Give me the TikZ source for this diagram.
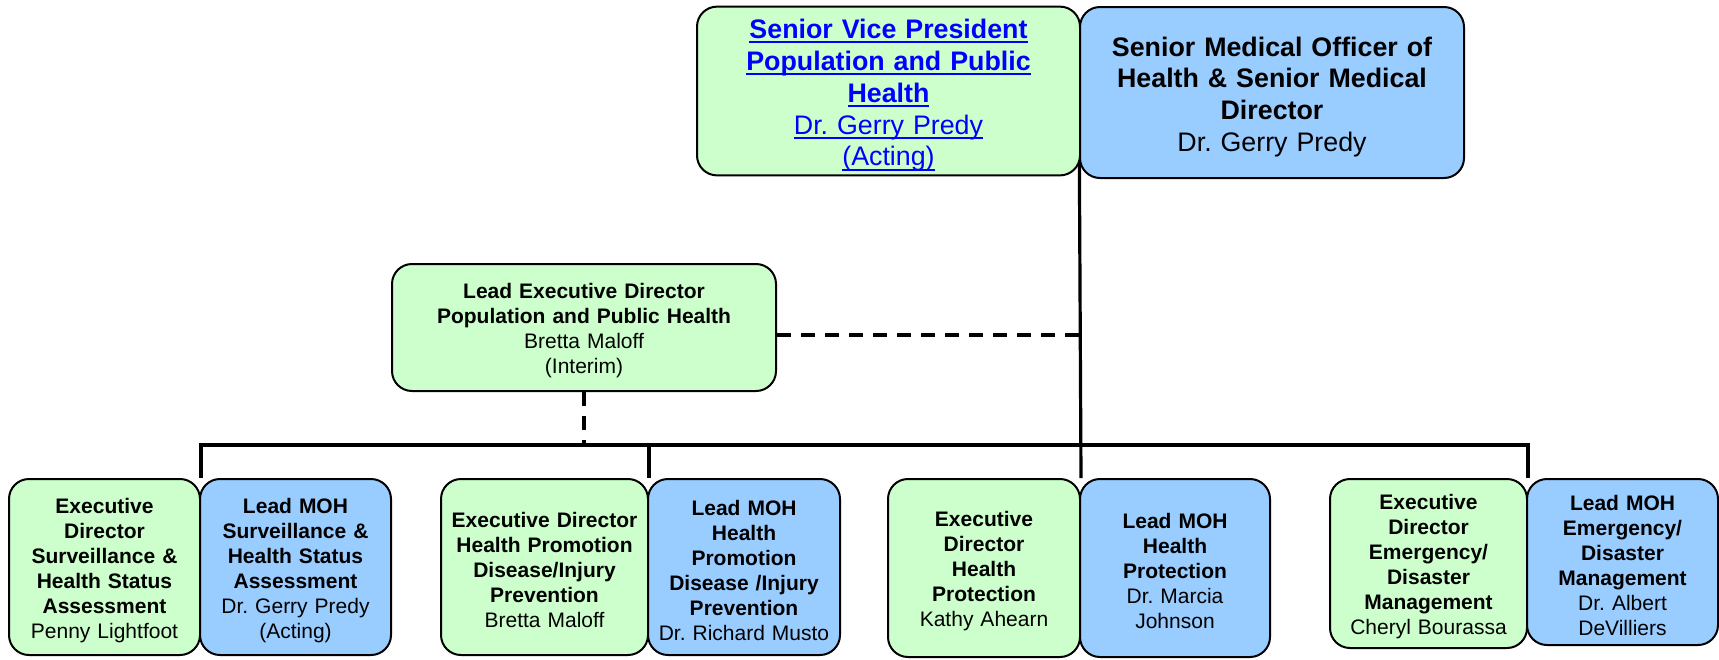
\documentclass[tikz,border=0pt]{standalone}
\usepackage{fontspec}
\setmainfont{Liberation Sans}
\usetikzlibrary{backgrounds}
\frenchspacing

\definecolor{boxgreen}{HTML}{CCFFCC}
\definecolor{boxblue}{HTML}{99CCFF}
\definecolor{linkblue}{HTML}{0000FF}

% underline at a fixed depth, as in a web link
\newcommand\linkline[1]{\setbox0\hbox{#1}\leavevmode\rlap{\rule[-2.4pt]{\wd0}{1pt}}\box0}

\tikzset{
  unit/.style={draw, line width=1pt, rounded corners=10pt, align=center,
    inner xsep=0pt, inner ysep=2pt},
  smalltext/.style={font=\fontsize{10.5}{12.5}\selectfont,
    execute at begin node={\rule{0pt}{11pt}}},
  largetext/.style={font=\fontsize{13.4}{15.9}\selectfont,
    execute at begin node={\rule{0pt}{14pt}}},
  greenbox/.style={unit, smalltext, fill=boxgreen},
  bluebox/.style={unit, smalltext, fill=boxblue},
  boxsize/.style 2 args={text width=#1, minimum height=#2},
  solidline/.style={line width=1.6pt},
  dashline/.style={line width=2pt, dash pattern=on 7pt off 5pt},
}

\begin{document}
\begin{tikzpicture}[x=0.5pt, y=-0.5pt]
  \useasboundingbox (0,0) rectangle (1719,659);

  % Top level
  \node[greenbox, largetext, boxsize={191.5pt}{84pt}, text=linkblue] (svp) at (888.5,91)
    {\linkline{\textbf{Senior Vice President}}\\
     \linkline{\textbf{Population and Public}}\\
     \linkline{\textbf{Health}}\\
     \linkline{Dr. Gerry Predy}\\
     \linkline{(Acting)}};
  \node[bluebox, largetext, boxsize={192pt}{85.5pt}] (smo) at (1272,92.5)
    {\textbf{Senior Medical Officer of\\Health \& Senior Medical\\Director}\\Dr. Gerry Predy};

  % Lead executive director
  \node[greenbox, boxsize={192pt}{63.5pt}] (led) at (584,327.5)
    {\textbf{Lead Executive Director\\Population and Public Health}\\Bretta Maloff\\(Interim)};

  % Portfolios
  \node[greenbox, boxsize={95.5pt}{88pt}] (surv) at (104.5,567)
    {\textbf{Executive\\Director\\Surveillance \&\\Health Status\\Assessment}\\Penny Lightfoot};
  \node[bluebox, boxsize={95.5pt}{88pt}] (survmoh) at (295.5,567)
    {\textbf{Lead MOH\\Surveillance \&\\Health Status\\Assessment}\\Dr. Gerry Predy\\(Acting)};
  \node[greenbox, boxsize={103.5pt}{88pt}] (promo) at (544.5,567)
    {\textbf{Executive Director\\Health Promotion\\Disease/Injury\\Prevention}\\Bretta Maloff};
  \node[bluebox, boxsize={96pt}{88pt}] (promomoh) at (744,567)
    {\textbf{Lead MOH\\Health\\Promotion\\Disease /Injury\\Prevention}\\Dr. Richard Musto};
  \node[greenbox, boxsize={96pt}{89pt}] (prot) at (984,568)
    {\textbf{Executive\\Director\\Health\\Protection}\\Kathy Ahearn};
  \node[bluebox, boxsize={95pt}{89pt}] (protmoh) at (1175,568)
    {\textbf{Lead MOH\\Health\\Protection}\\Dr. Marcia\\Johnson};
  \node[greenbox, boxsize={98.5pt}{84.5pt}] (emerg) at (1428.5,563.5)
    {\textbf{Executive\\Director\\Emergency/\\Disaster\\Management}\\Cheryl Bourassa};
  \node[bluebox, boxsize={95.5pt}{83pt}] (emergmoh) at (1622.5,562)
    {\textbf{Lead MOH\\Emergency/\\Disaster\\Management}\\Dr. Albert\\DeVilliers};

  % Connectors
  \begin{scope}[on background layer]
    \coordinate (bus) at ([yshift=16.5pt]surv.north east);
    \draw[solidline] (smo.west) -- (prot.north east);
    \draw[solidline] (surv.north east) -- (bus) -| (emerg.north east);
    \draw[solidline] (promo.north east) -- (promo.north east |- bus);
    \draw[dashline] ([yshift=-3.5pt]led.east) -- ([yshift=-3.5pt]led.east -| smo.west);
    \draw[dashline] (led.south) -- (led.south |- bus);
  \end{scope}
\end{tikzpicture}
\end{document}
